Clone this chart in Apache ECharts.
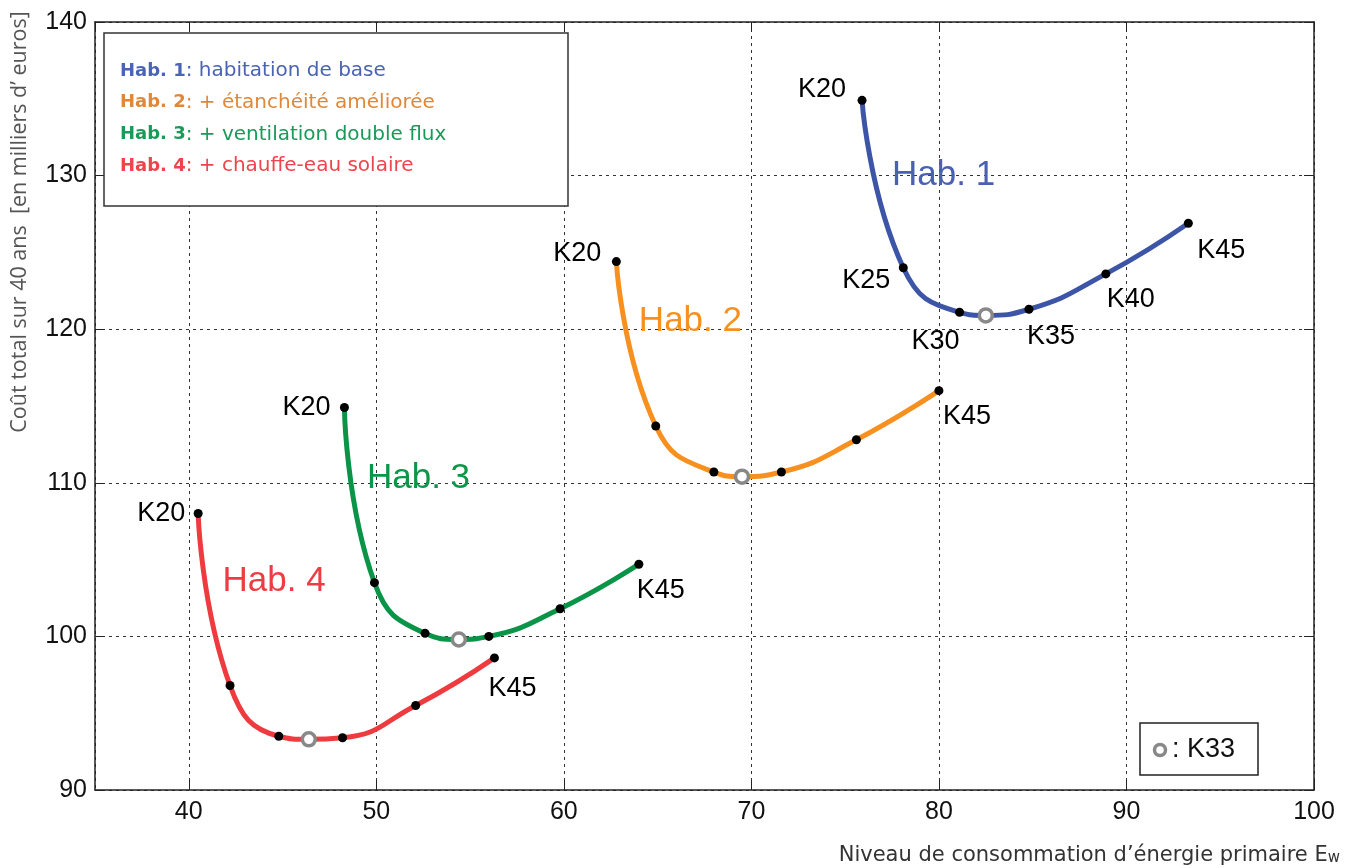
<!DOCTYPE html>
<html>
<head>
<meta charset="utf-8">
<script src="https://cdn.jsdelivr.net/npm/echarts@6/dist/echarts.min.js"></script>
<style>
html,body{margin:0;padding:0;background:#fff;}
#chart{width:1351px;height:868px;}
</style>
</head>
<body>
<div id="chart"></div>
<script>
// ---- Data ----
const kLevels = ['K20', 'K25', 'K30', 'K33', 'K35', 'K40', 'K45'];
const hab1X = [75.9, 78.1, 81.1, 82.5, 84.8, 88.9, 93.3];
const hab1Y = [134.9, 124.0, 121.1, 120.9, 121.3, 123.6, 126.9];
const hab2X = [62.8, 64.9, 68.0, 69.5, 71.6, 75.6, 80.0];
const hab2Y = [124.4, 113.7, 110.7, 110.4, 110.7, 112.8, 116.0];
const hab3X = [48.3, 49.9, 52.6, 54.4, 56.0, 59.8, 64.0];
const hab3Y = [114.9, 103.5, 100.2, 99.8, 100.0, 101.8, 104.7];
const hab4X = [40.5, 42.2, 44.8, 46.4, 48.2, 52.1, 56.3];
const hab4Y = [108.0, 96.8, 93.5, 93.3, 93.4, 95.5, 98.6];
const habNames = ['Hab. 1', 'Hab. 2', 'Hab. 3', 'Hab. 4'];
const habDescriptions = [': habitation de base', ': + étanchéité améliorée', ': + ventilation double flux', ': + chauffe-eau solaire'];
// annotation anchor (left edge, vertical middle) of the "Hab. n" curve labels, in data units
const habLabelX = [77.5, 64.0, 49.5, 41.8];
const habLabelY = [130.0, 120.5, 110.3, 103.6];
const xTicks = [40, 50, 60, 70, 80, 90, 100];
const yTicks = [90, 100, 110, 120, 130, 140];

// ---- Styles ----
const lineColors = ['#3D55A6', '#F7901E', '#0A9448', '#EE3B3F'];
const textColors = ['#4A60B2', '#F7901E', '#0B9648', '#EF3B43'];
const legendColors = ['#4A63B5', '#E0883A', '#1A9A58', '#EF444C'];
const habX = [hab1X, hab2X, hab3X, hab4X];
const habY = [hab1Y, hab2Y, hab3Y, hab4Y];
// which K labels are written for each curve, with pixel offsets (label centre relative to the dot)
const labelOffsets = [
  {K20: [-40, -11], K25: [-37, 13], K30: [-24, 29], K35: [22, 27], K40: [25, 26], K45: [33, 27]},
  {K20: [-39, -8], K45: [28, 26]},
  {K20: [-38, 0], K45: [22, 26]},
  {K20: [-37, 0], K45: [18, 31]}
];

const series = [];
habX.forEach((xs, s) => {
  const pts = xs.map((x, i) => [x, habY[s][i]]);
  series.push({
    type: 'line', name: habNames[s], data: pts, smooth: 0.5,
    symbol: 'none', lineStyle: {color: lineColors[s], width: 5}, z: 2, silent: true
  });
  const dots = [];
  kLevels.forEach((k, i) => {
    if (k === 'K33') return;
    const off = labelOffsets[s][k];
    dots.push({
      value: pts[i], name: k,
      label: off ? {show: true, position: 'inside', offset: off, formatter: k, opacity: 1,
        color: '#000', fontSize: 27, fontFamily: 'Liberation Sans, Arial, sans-serif'} : {show: false}
    });
  });
  series.push({
    type: 'scatter', data: dots, symbol: 'circle', symbolSize: 9,
    itemStyle: {color: '#000', opacity: 1}, z: 4, silent: true
  });
  const k33i = kLevels.indexOf('K33');
  series.push({
    type: 'scatter', data: [pts[k33i]], symbol: 'circle', symbolSize: 13,
    itemStyle: {color: '#fff', borderColor: '#888', borderWidth: 3.5, opacity: 1}, z: 5, silent: true
  });
  series.push({
    type: 'scatter', data: [[habLabelX[s], habLabelY[s]]], symbolSize: 0, z: 6, silent: true,
    itemStyle: {opacity: 1},
    label: {show: true, position: 'inside', align: 'left', verticalAlign: 'middle', formatter: habNames[s], opacity: 1,
      color: textColors[s], fontSize: 35, fontFamily: 'Liberation Sans Narrow, Liberation Sans, Arial, sans-serif'}
  });
});

const legendGraphics = [
  {type: 'rect', shape: {x: 104, y: 33, width: 464, height: 173},
   style: {fill: '#fff', stroke: '#333', lineWidth: 1.5}, z: 10}
];
habNames.forEach((n, s) => {
  legendGraphics.push({
    type: 'text', x: 120, y: 71 + s * 31.7, z: 11,
    style: {
      text: '{b|' + n + '}{n|' + habDescriptions[s] + '}',
      verticalAlign: 'middle',
      rich: {
        b: {fontFamily: 'DejaVu Sans', fontWeight: 'bold', fontSize: 18, fill: legendColors[s], color: legendColors[s]},
        n: {fontFamily: 'DejaVu Sans', fontSize: 20, fill: legendColors[s], color: legendColors[s]}
      }
    }
  });
});

const axisFont = {color: '#111', fontSize: 25, fontFamily: 'Liberation Sans, Arial, sans-serif'};

const option = {
  backgroundColor: '#fff',
  animation: false,
  grid: {left: 95, right: 37, top: 22, bottom: 78, show: false},
  xAxis: [{
    type: 'value', min: 35, max: 100, minInterval: 10, maxInterval: 10,
    axisLine: {show: true, lineStyle: {color: '#222', width: 1.5}},
    axisTick: {show: true, inside: true, length: 10, lineStyle: {color: '#222'}},
    axisLabel: Object.assign({margin: 10, showMinLabel: false,
      formatter: v => xTicks.indexOf(v) >= 0 ? String(v) : ''}, axisFont),
    splitLine: {show: true, lineStyle: {color: '#333', type: [3, 4], width: 1}}
  }, {
    type: 'value', position: 'top', min: 35, max: 100, minInterval: 10, maxInterval: 10,
    axisLine: {show: true, lineStyle: {color: '#222', width: 1.5}},
    axisTick: {show: true, inside: true, length: 10, lineStyle: {color: '#222'}},
    axisLabel: {show: false}, splitLine: {show: false}
  }],
  yAxis: [{
    type: 'value', min: 90, max: 140, interval: 10,
    axisLine: {show: true, lineStyle: {color: '#222', width: 1.5}},
    axisTick: {show: true, inside: true, length: 10, lineStyle: {color: '#222'}},
    axisLabel: Object.assign({margin: 8,
      formatter: v => yTicks.indexOf(v) >= 0 ? String(v) : ''}, axisFont),
    splitLine: {show: true, lineStyle: {color: '#333', type: [3, 4], width: 1}}
  }, {
    type: 'value', position: 'right', min: 90, max: 140, interval: 10,
    axisLine: {show: true, lineStyle: {color: '#222', width: 1.5}},
    axisTick: {show: true, inside: true, length: 10, lineStyle: {color: '#222'}},
    axisLabel: {show: false}, splitLine: {show: false}
  }],
  series: series,
  graphic: legendGraphics.concat([
    {type: 'text', x: 20, y: 222, rotation: Math.PI / 2, z: 11,
     style: {text: 'Coût total sur 40 ans  [en milliers d\u2019 euros]', align: 'center', verticalAlign: 'middle',
       fontFamily: 'Open Sans, sans-serif', fontSize: 21.5, fill: '#555'}},
    {type: 'text', x: 1340, y: 856, z: 11,
     style: {text: '{n|Niveau de consommation d\u2019énergie primaire E}{s|w}', align: 'right', verticalAlign: 'middle',
       rich: {
         n: {fontFamily: 'DejaVu Sans', fontSize: 21, fill: '#333', color: '#333'},
         s: {fontFamily: 'DejaVu Sans', fontSize: 15, fill: '#333', color: '#333', padding: [5, 0, 0, 0]}
       }}},
    {type: 'rect', shape: {x: 1140, y: 723, width: 118, height: 52},
     style: {fill: '#fff', stroke: '#222', lineWidth: 1.5}, z: 10},
    {type: 'circle', shape: {cx: 1160, cy: 750, r: 5.5},
     style: {fill: '#fff', stroke: '#888', lineWidth: 3.5}, z: 11},
    {type: 'text', x: 1172, y: 750, z: 11,
     style: {text: ': K33', verticalAlign: 'middle', fontFamily: 'Liberation Sans, Arial, sans-serif', fontSize: 27, fill: '#111'}}
  ])
};

const chart = echarts.init(document.getElementById('chart'), null, {renderer: 'canvas'});
chart.setOption(option);
</script>
</body>
</html>
